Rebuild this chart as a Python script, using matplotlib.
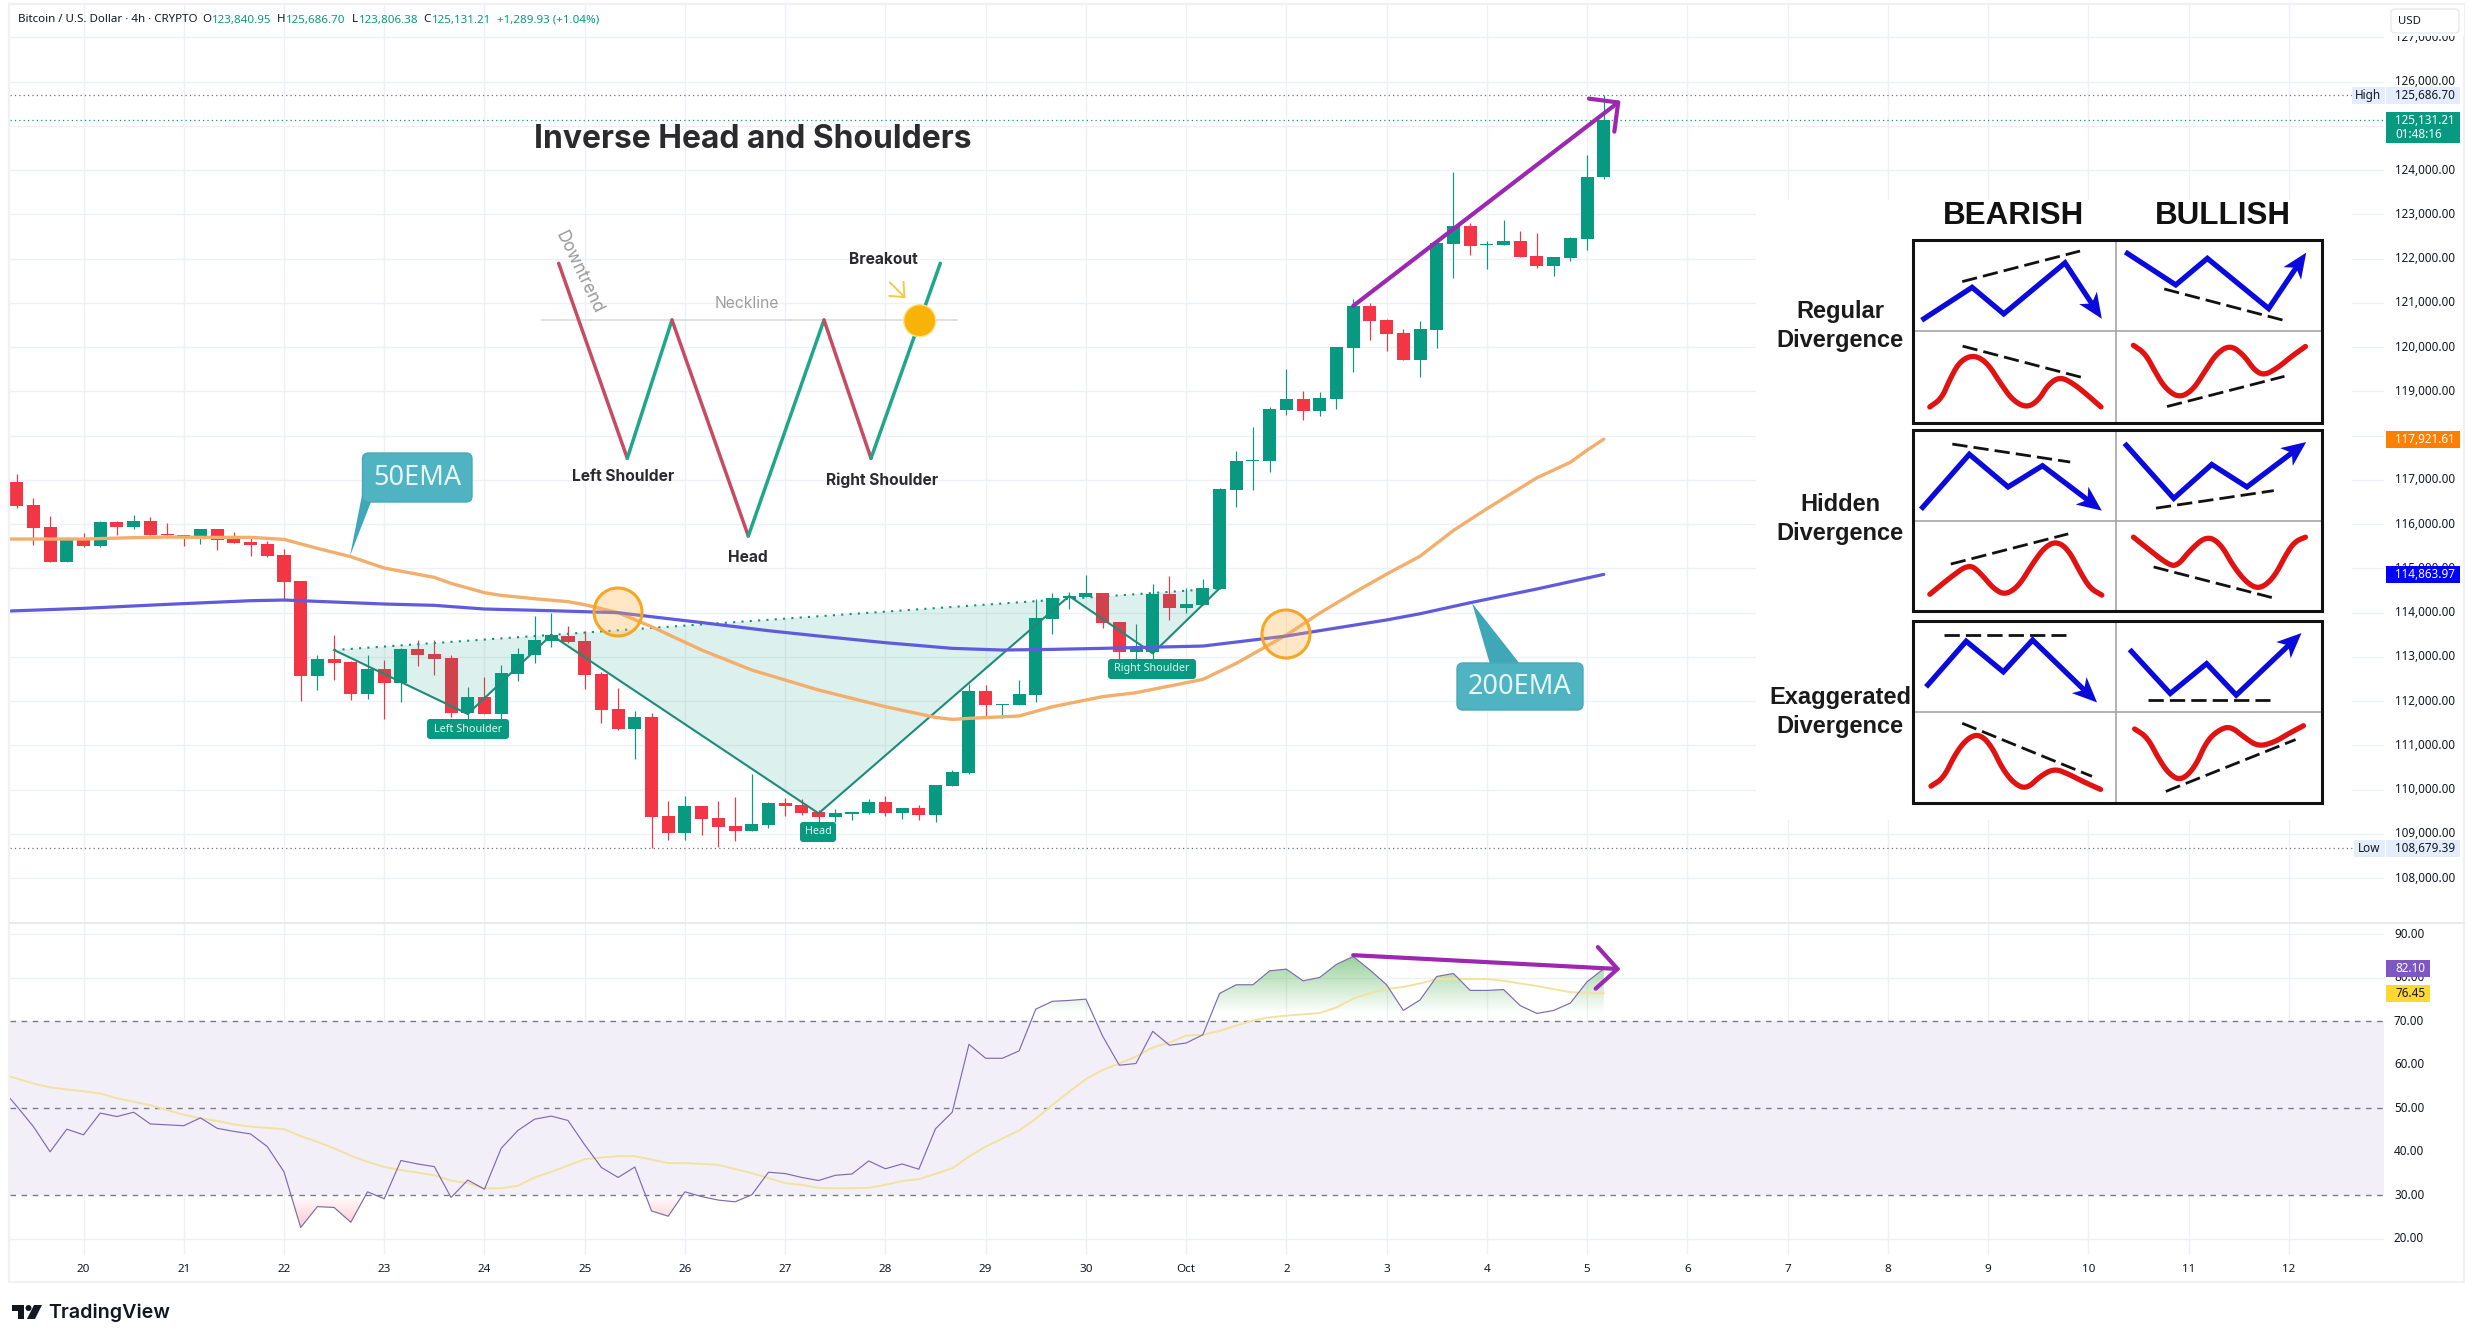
import numpy as np
import matplotlib
matplotlib.use('Agg')
import matplotlib.pyplot as plt
from matplotlib.patches import Circle, FancyBboxPatch, PathPatch, Polygon, Rectangle
from matplotlib.path import Path

# ==============================================================================
# DATA
# ==============================================================================

# BTC/USD 4h candles, index 4 is Sep 20 00:00
opens = [116951, 116431, 115934, 115150, 115685, 115505, 116047, 115934, 116069, 115776, 115753, 115708,
         115889, 115663, 115595, 115550, 115301, 114706, 112574, 112951, 112883, 112160, 112725, 112408,
         113177, 113064, 112973, 111730, 112092, 111708, 112612, 113041, 113358, 113471, 113358, 112612,
         111821, 111369, 111640, 109403, 109019, 109629, 109358, 109177, 109064, 109199, 109696, 109651,
         109493, 109380, 109448, 109471, 109719, 109471, 109583, 109425, 110081, 110375, 112228, 111911,
         111911, 112137, 113855, 114329, 114352, 114442, 113787, 113109, 113109, 114420, 114103, 114171,
         114534, 116775, 117437, 117429, 118581, 118830, 118565, 118830, 119989, 120931, 120604, 120316,
         119717, 120394, 122340, 122736, 122316, 122308, 122402, 122059, 121834, 122013, 122441, 123840.95]
highs = [117132, 116597, 116182, 115708, 115791, 116060, 116060, 116205, 116152, 116017, 115760, 115900,
         115900, 115821, 115730, 115617, 115437, 114720, 113041, 113493, 112895, 113041, 112928, 113190,
         113380, 113380, 113041, 112318, 112544, 112815, 113199, 113923, 113990, 113697, 113584, 112657,
         112295, 111776, 111730, 109742, 109855, 109640, 109742, 109832, 110352, 109719, 109809, 109787,
         109538, 109561, 109500, 109787, 109855, 109590, 109651, 110110, 110442, 112386, 112363, 111940,
         112476, 114307, 114442, 114465, 114849, 114450, 113795, 113742, 114646, 114826, 114555, 114759,
         116814, 117655, 118192, 118643, 119499, 119001, 118986, 120010, 121087, 120993, 120635, 120410,
         120589, 122410, 123958, 122806, 122402, 122869, 122628, 122573, 122040, 122480, 124340, 125686.70]
lows = [116371, 115535, 115140, 115140, 115490, 115489, 115753, 115896, 115745, 115693, 115505, 115557,
        115414, 115565, 115278, 115263, 114284, 112002, 112250, 112476, 112024, 112047, 111595, 111979,
        112793, 112589, 111640, 111595, 111700, 111595, 112454, 112860, 113222, 113312, 112273, 111504,
        111346, 110691, 108679.39, 108860, 108860, 108973, 108700, 108838, 109055, 109131, 109403, 109425,
        109177, 109267, 109312, 109448, 109403, 109335, 109312, 109267, 110075, 110352, 111663, 111617,
        111905, 111979, 113516, 114081, 114345, 113651, 112883, 112928, 112951, 113832, 113990, 114165,
        114530, 116386, 116760, 117188, 118472, 118355, 118449, 118604, 119445, 120161, 119912, 119710,
        119328, 119989, 121561, 122090, 121764, 122300, 122030, 121795, 121608, 121950, 122200, 123806.38]
closes = [116416, 115919, 115150, 115685, 115505, 116047, 115941, 116069, 115753, 115746, 115738, 115889,
          115648, 115572, 115527, 115278, 114698, 112574, 112951, 112860, 112160, 112725, 112408, 113177,
          113041, 112951, 111730, 112092, 111708, 112634, 113064, 113380, 113493, 113335, 112589, 111798,
          111369, 111640, 109380, 109019, 109629, 109335, 109154, 109064, 109222, 109696, 109629, 109471,
          109380, 109471, 109493, 109719, 109471, 109583, 109425, 110103, 110397, 112228, 111911, 111934,
          112160, 113877, 114329, 114374, 114442, 113764, 113109, 113199, 114420, 114103, 114194, 114555,
          116791, 117429, 117452, 118604, 118830, 118565, 118853, 120005, 120931, 120596, 120293, 119717,
          120410, 122355, 122736, 122293, 122332, 122402, 122036, 121834, 122036, 122464, 123841, 125131.21]

# moving averages
ema50_idx = [-1, 4, 7, 9, 11, 14, 16, 18, 20, 22, 25, 26, 28, 29, 31, 33, 34, 36, 38, 41, 44, 48, 52, 55, 56,
             57, 60, 62, 65, 67, 71, 73, 76, 78, 80, 82, 84, 86, 88, 89, 91, 93, 94, 95]
ema50 = [115663, 115663, 115693, 115708, 115700, 115700, 115655, 115452, 115263, 115007, 114796, 114661,
         114450, 114390, 114314, 114247, 114179, 113998, 113682, 113154, 112702, 112250, 111873, 111632,
         111587, 111610, 111663, 111873, 112100, 112190, 112491, 112853, 113493, 113990, 114441, 114869,
         115274, 115857, 116347, 116581, 117048, 117398, 117670, 117921.61]
ema200_idx = [-1, 4, 9, 14, 16, 18, 22, 25, 28, 32, 36, 38, 41, 45, 48, 52, 56, 59, 62, 65, 71, 74, 76, 82,
              84, 87, 91, 95]
ema200 = [114028, 114096, 114186, 114269, 114284, 114254, 114194, 114164, 114081, 114043, 113998, 113907,
          113775, 113591, 113471, 113320, 113192, 113154, 113169, 113192, 113244, 113380, 113471, 113834,
          113974, 114223, 114534, 114863.97]

# RSI, starting one bar before the first candle
rsi_idx = list(range(-1, 96))
rsi = [55.0, 50.5, 45.8, 40.0, 45.2, 43.9, 48.9, 48.1, 49.1, 46.4, 46.2, 46.0, 47.8, 45.4, 44.7, 44.1, 41.2,
       35.4, 22.6, 27.4, 27.2, 23.8, 30.8, 29.2, 38.0, 37.2, 36.6, 29.5, 33.5, 31.4, 40.8, 44.9, 47.5, 48.2,
       47.2, 41.6, 36.4, 34.1, 36.5, 26.4, 25.2, 30.8, 29.7, 28.9, 28.5, 30.1, 35.3, 35.0, 34.1, 33.4, 34.6,
       34.9, 37.9, 36.1, 37.2, 36.0, 45.3, 49.1, 64.7, 61.5, 61.5, 63.2, 72.8, 74.6, 74.8, 75.1, 66.6, 59.9,
       60.3, 67.7, 64.5, 65.0, 66.9, 76.4, 78.4, 78.4, 81.6, 82.0, 79.3, 80.1, 83.1, 84.9, 81.8, 78.4, 72.5,
       74.9, 80.3, 81.0, 77.1, 77.1, 77.3, 73.6, 71.8, 72.5, 74.2, 79.1, 82.10]
rsi_ma_idx = [-1, 1, 2, 4, 5, 6, 7, 8, 10, 11, 12, 13, 14, 16, 17, 18, 19, 20, 21, 22, 23, 25, 26, 27, 28, 29,
              30, 31, 32, 34, 35, 36, 37, 39, 40, 42, 44, 46, 47, 48, 49, 51, 52, 53, 54, 56, 57, 58, 60, 61,
              62, 63, 64, 65, 66, 67, 68, 69, 70, 71, 72, 73, 74, 75, 76, 77, 78, 79, 80, 81, 82, 83, 84, 85,
              86, 87, 88, 89, 90, 91, 92, 93, 94, 95]
rsi_ma = [58.0, 55.7, 54.8, 53.9, 53.4, 52.3, 51.5, 50.7, 48.5, 47.7, 47.1, 46.3, 45.8, 45.2, 43.6, 42.3, 40.8,
          39.1, 37.7, 36.5, 35.8, 34.6, 33.4, 32.8, 31.6, 31.6, 32.2, 34.1, 35.4, 38.3, 38.7, 39.0, 39.0, 37.4,
          37.4, 37.0, 35.1, 32.8, 32.4, 31.7, 31.6, 31.7, 32.4, 33.3, 33.7, 36.2, 38.9, 41.2, 44.9, 47.6, 50.8,
          53.8, 56.7, 58.8, 60.3, 61.9, 64.0, 65.1, 66.7, 66.9, 67.8, 69.0, 70.2, 70.9, 71.3, 71.6, 71.9, 73.2,
          75.2, 76.5, 77.4, 77.9, 78.7, 79.7, 79.8, 79.7, 79.7, 79.3, 78.7, 78.1, 77.4, 76.7, 76.5, 76.45]

# inverse head and shoulders drawn on the candles
pattern_idx = [19, 27, 32, 48, 63, 68, 72]
pattern_price = [113154, 111708, 113493, 109463, 114374, 113079, 114548]

# divergence arrows: (bar, value) start and end
price_arrow_idx = [80, 96.0]
price_arrow_val = [120931, 125569]
rsi_arrow_idx = [80, 96.0]
rsi_arrow_val = [85.2, 82.0]

# time axis
day_labels = ['20', '21', '22', '23', '24', '25', '26', '27', '28', '29', '30', 'Oct',
              '2', '3', '4', '5', '6', '7', '8', '9', '10', '11', '12']
day_idx = [4 + 6 * k for k in range(len(day_labels))]

price_ticks = list(range(108000, 128000, 1000))
covered_ticks = [118000, 125000]  # sit right under a value tag, no label
rsi_ticks = [20, 30, 40, 50, 60, 70, 80, 90]

high_price = 125686.70
low_price = 108679.39
last_price = 125131.21
last_ema50 = 117921.61
last_ema200 = 114863.97
last_rsi = 82.10
last_rsi_ma = 76.45

# schematic pattern, in figure pixels
sketch_x = [558.7, 627.3, 672, 748.3, 824, 871, 940.3]
sketch_y = [263.3, 458.3, 320, 536, 320, 458.3, 263.3]

# divergence cheat sheet, in diagram units
blue_paths = [
    [(465, 340), (587, 263), (667, 328), (822, 203), (915, 340)],
    [(980, 180), (1102, 257), (1182, 192), (1337, 315), (1432, 178)],
    [(462, 802), (580, 672), (678, 752), (765, 700), (915, 810)],
    [(977, 650), (1097, 780), (1193, 697), (1282, 752), (1432, 642)],
    [(475, 1237), (572, 1130), (666, 1205), (740, 1127), (903, 1280)],
    [(990, 1155), (1088, 1258), (1180, 1185), (1255, 1262), (1420, 1110)],
]
red_paths = [
    [(480, 556), (510, 535), (530, 490), (555, 445), (590, 428), (625, 447), (660, 500), (690, 540), (725, 558),
     (755, 540), (780, 500), (810, 482), (845, 500), (880, 528), (913, 556)],
    [(995, 405), (1025, 425), (1050, 470), (1075, 510), (1110, 534), (1145, 515), (1175, 470), (1205, 425),
     (1240, 404), (1275, 430), (1300, 465), (1325, 479), (1360, 460), (1395, 432), (1430, 408)],
    [(480, 1015), (530, 975), (580, 940), (610, 965), (640, 1000), (670, 1017), (705, 995), (740, 940), (770, 900),
     (800, 885), (830, 905), (860, 960), (885, 1000), (915, 1017)],
    [(995, 875), (1040, 910), (1080, 940), (1105, 947), (1140, 905), (1180, 872), (1215, 890), (1250, 950),
     (1285, 990), (1315, 1002), (1350, 975), (1385, 910), (1405, 885), (1430, 875)],
    [(483, 1485), (515, 1465), (545, 1405), (575, 1368), (605, 1357), (635, 1385), (665, 1445), (695, 1480),
     (725, 1492), (760, 1460), (795, 1442), (830, 1455), (870, 1475), (912, 1493)],
    [(998, 1345), (1030, 1365), (1060, 1420), (1085, 1455), (1115, 1472), (1150, 1440), (1180, 1375), (1210, 1348),
     (1240, 1338), (1275, 1365), (1310, 1388), (1350, 1378), (1390, 1355), (1425, 1337)],
]
dash_lines = [
    [(562, 249), (860, 174)], [(1073, 267), (1372, 343)], [(563, 407), (862, 483)], [(1080, 555), (1377, 481)],
    [(537, 647), (835, 691)], [(1052, 804), (1350, 761)], [(533, 941), (830, 867)], [(1046, 948), (1345, 1023)],
    [(516, 1115), (825, 1115)], [(1032, 1273), (1340, 1273)], [(562, 1331), (890, 1461)], [(1077, 1498), (1405, 1371)],
]

# ==============================================================================
# STYLE
# ==============================================================================

GREEN = '#089981'
RED = '#F23645'
GRID = '#EEF0F5'
TEXT = '#131722'
TV_FONT = 'Noto Sans'
W, H = 2475, 1343

plt.rcParams['font.family'] = [TV_FONT, 'DejaVu Sans']


def pane(left, top, right, bottom):
    # axes placed by its pixel box
    return fig.add_axes([left / W, 1 - bottom / H, (right - left) / W, (bottom - top) / H])


def y_px(ax, value):
    # pixel row of a value on a pane
    return H - ax.transData.transform((0, value))[1]


def chaikin(points, rounds=3):
    # corner cutting to round off a hand drawn curve
    pts = np.array(points, dtype=float)
    for _ in range(rounds):
        a = pts[:-1] * 0.75 + pts[1:] * 0.25
        b = pts[:-1] * 0.25 + pts[1:] * 0.75
        mid = np.empty((a.shape[0] * 2, 2))
        mid[0::2] = a
        mid[1::2] = b
        pts = np.vstack([pts[0], mid, pts[-1]])
    return pts


fig = plt.figure(figsize=(W / 100, H / 100), dpi=100, facecolor='white')

# ==============================================================================
# PRICE PANE
# ==============================================================================

ax_price = pane(10, 5, 2384, 923)
ax_price.set_xlim(-0.40, 141.70)
ax_price.set_ylim(126000 - (923 - 81.6) / 0.04425, 126000 + (81.6 - 5) / 0.04425)
ax_price.set_xticks([])
ax_price.set_yticks([])
for s in ax_price.spines.values():
    s.set_visible(False)

for p in price_ticks:
    ax_price.axhline(p, color=GRID, lw=1, zorder=0)
for d in day_idx:
    ax_price.axvline(d, color=GRID, lw=1, zorder=0)

idx = np.arange(len(opens))
opens_a, closes_a = np.array(opens), np.array(closes)
colors = [GREEN if c >= o else RED for o, c in zip(opens, closes)]
ax_price.vlines(idx, lows, highs, colors=colors, lw=0.85, zorder=2)
ax_price.bar(idx, np.abs(closes_a - opens_a), bottom=np.minimum(opens_a, closes_a), width=0.78,
             color=colors, linewidth=0, zorder=3)

# pattern polygon with its neckline
ax_price.fill(pattern_idx, pattern_price, color=GREEN, alpha=0.14, lw=0, zorder=4)
ax_price.plot(pattern_idx, pattern_price, color='#1C8C78', lw=1.5, zorder=5)
ax_price.plot([pattern_idx[0], pattern_idx[-1]], [pattern_price[0], pattern_price[-1]], color='#1C8C78',
              lw=1.5, ls=(0, (1, 3)), zorder=5)

ax_price.plot(ema50_idx, ema50, color='#F3AE6B', lw=2.4, zorder=6, solid_capstyle='round')
ax_price.plot(ema200_idx, ema200, color='#5F5BDC', lw=2.3, zorder=6, solid_capstyle='round')

# high, low and last price lines
ax_price.hlines(high_price, -0.40, 139.8, color='#6B7280', lw=0.9, ls=(0, (1, 2.5)), zorder=1)
ax_price.hlines(low_price, -0.40, 139.8, color='#6B7280', lw=0.9, ls=(0, (1, 2.5)), zorder=1)
ax_price.axhline(last_price, color=GREEN, lw=0.9, ls=(0, (1, 2.5)), zorder=1)

ax_price.annotate('', xy=(price_arrow_idx[1], price_arrow_val[1]), xytext=(price_arrow_idx[0], price_arrow_val[0]),
                  arrowprops=dict(arrowstyle='->,head_length=1.5,head_width=1.5', color='#9C27B0', lw=3,
                                  shrinkA=0, shrinkB=0), zorder=8)

# ==============================================================================
# RSI PANE
# ==============================================================================

ax_rsi = pane(10, 923, 2384, 1255)
ax_rsi.set_xlim(-0.40, 141.70)
ax_rsi.set_ylim(30 - (1255 - 1195.3) / 4.35, 70 + (1021.3 - 923) / 4.35)
ax_rsi.set_xticks([])
ax_rsi.set_yticks([])
for s in ax_rsi.spines.values():
    s.set_visible(False)

for v in [20, 40, 60, 80, 90]:
    ax_rsi.axhline(v, color=GRID, lw=1, zorder=1)
for d in day_idx:
    ax_rsi.axvline(d, color=GRID, lw=1, zorder=1)

ax_rsi.axhspan(30, 70, color='#7E57C2', alpha=0.09, lw=0, zorder=0)
for v in [30, 50, 70]:
    ax_rsi.axhline(v, color='#787B86', lw=1, ls=(0, (4, 4)), zorder=2)

rsi_a = np.array(rsi)
x_rsi = np.array(rsi_idx)
xlim_rsi, ylim_rsi = ax_rsi.get_xlim(), ax_rsi.get_ylim()

# overbought and oversold zones fade towards the 70 and 30 levels
over = ax_rsi.fill_between(x_rsi, 70, rsi_a, where=rsi_a > 70, interpolate=True, alpha=0)
over_path = Path.make_compound_path(*over.get_paths())
grad = np.zeros((256, 1, 4))
grad[:, 0, :3] = matplotlib.colors.to_rgb('#4CAF50')
grad[:, 0, 3] = np.clip(np.linspace(0.62, -0.04, 256), 0, 1)
img = ax_rsi.imshow(grad, extent=[xlim_rsi[0], xlim_rsi[1], 71, 86], origin='upper', aspect='auto', zorder=3)
img.set_clip_path(PathPatch(over_path, transform=ax_rsi.transData))

under = ax_rsi.fill_between(x_rsi, 30, rsi_a, where=rsi_a < 30, interpolate=True, alpha=0)
under_path = Path.make_compound_path(*under.get_paths())
grad = np.zeros((256, 1, 4))
grad[:, 0, :3] = matplotlib.colors.to_rgb('#F23645')
grad[:, 0, 3] = np.linspace(0, 0.32, 256)
img = ax_rsi.imshow(grad, extent=[xlim_rsi[0], xlim_rsi[1], 21, 30], origin='upper', aspect='auto', zorder=3)
img.set_clip_path(PathPatch(under_path, transform=ax_rsi.transData))
ax_rsi.set_xlim(xlim_rsi)
ax_rsi.set_ylim(ylim_rsi)

ax_rsi.plot(rsi_ma_idx, rsi_ma, color='#F1E2A0', lw=1.4, zorder=4)
ax_rsi.plot(rsi_idx, rsi, color='#7E6BAE', lw=0.85, zorder=5)

ax_rsi.annotate('', xy=(rsi_arrow_idx[1], rsi_arrow_val[1]), xytext=(rsi_arrow_idx[0], rsi_arrow_val[0]),
                arrowprops=dict(arrowstyle='->,head_length=1.5,head_width=1.5', color='#9C27B0', lw=3,
                                shrinkA=0, shrinkB=0), zorder=8)

# ==============================================================================
# OVERLAY: FRAME, AXIS LABELS, TAGS, CALLOUTS, SCHEMATIC
# ==============================================================================

ov = fig.add_axes([0, 0, 1, 1], zorder=5)
ov.set_xlim(0, W)
ov.set_ylim(H, 0)
ov.axis('off')
ov.patch.set_alpha(0)

# chart frame and pane separator
ov.add_patch(Rectangle((9, 4), 2455, 1278, fill=False, ec='#F0F1F4', lw=1.6))
ov.plot([10, 2464], [923, 923], color='#E4E6EC', lw=1.2)

# price and RSI tick labels
for p in price_ticks:
    if p not in covered_ticks:
        ov.text(2395, y_px(ax_price, p), f'{p:,.2f}', fontsize=8.45, color=TEXT, va='center', ha='left', zorder=2)
for v in rsi_ticks:
    ov.text(2394, y_px(ax_rsi, v), f'{v:.2f}', fontsize=8.45, color=TEXT, va='center', ha='left', zorder=2)

# time axis
for d, lab in zip(day_idx, day_labels):
    x = ax_price.transData.transform((d, 0))[0]
    ov.text(x, 1270, lab, fontsize=8.4, color=TEXT, ha='center', va='center',
            fontweight='bold' if lab == 'Oct' else 'normal')

# USD button masks the top of the scale
ov.add_patch(Rectangle((2386, 5), 78, 31, fc='white', ec='none', zorder=3))
ov.add_patch(FancyBboxPatch((2391, 9), 68, 24, boxstyle='round,pad=0,rounding_size=4', fc='white',
                            ec='#E8EAEE', lw=1, zorder=3))
ov.text(2398, 21, 'USD', fontsize=8.2, color=TEXT, va='center', zorder=4)


def tag(ax, value, text, fc, tc, x0=2386, x1=2460, h=17):
    y = y_px(ax, value)
    ov.add_patch(Rectangle((x0, y - h / 2), x1 - x0, h, fc=fc, ec='none', zorder=5))
    ov.text(x0 + 9, y, text, fontsize=8.45, color=tc, va='center', zorder=6)


tag(ax_price, high_price, f'{high_price:,.2f}', '#E3EEFA', TEXT)
ov.add_patch(Rectangle((2352, y_px(ax_price, high_price) - 8.5), 33, 17, fc='#E3EEFA', ec='none', zorder=5))
ov.text(2368, y_px(ax_price, high_price), 'High', fontsize=8.45, color=TEXT, va='center', ha='center', zorder=6)
tag(ax_price, low_price, f'{low_price:,.2f}', '#E3EEFA', TEXT)
ov.add_patch(Rectangle((2354, y_px(ax_price, low_price) - 8.5), 31, 17, fc='#E3EEFA', ec='none', zorder=5))
ov.text(2369, y_px(ax_price, low_price), 'Low', fontsize=8.45, color=TEXT, va='center', ha='center', zorder=6)
tag(ax_price, last_ema50, f'{last_ema50:,.2f}', '#FF8000', 'white')
tag(ax_price, last_ema200, f'{last_ema200:,.2f}', '#0000FF', 'white')
ov.add_patch(Rectangle((2386, 112), 74, 31, fc=GREEN, ec='none', zorder=5))
ov.text(2395, 120.5, f'{last_price:,.2f}', fontsize=8.45, color='white', va='center', zorder=6)
ov.text(2395, 134, '01:48:16', fontsize=8.45, color='white', va='center', zorder=6)
tag(ax_rsi, last_rsi, f'{last_rsi:.2f}', '#7E57C2', 'white', x1=2430)
tag(ax_rsi, last_rsi_ma, f'{last_rsi_ma:.2f}', '#FDD835', TEXT, x1=2430)

# legend line at the top
header_parts = [(18, 'Bitcoin / U.S. Dollar · 4h · CRYPTO', TEXT), (202.5, 'O', TEXT), (212, '123,840.95', GREEN),
                (277, 'H', TEXT), (286, '125,686.70', GREEN), (352, 'L', TEXT), (358.5, '123,806.38', GREEN),
                (423, 'C', TEXT), (431.5, '125,131.21', GREEN), (496.7, '+1,289.93 (+1.04%)', GREEN)]
for x, s, c in header_parts:
    ov.text(x, 20, s, fontsize=8.3, color=c, va='center')

# pattern tags under the swings
for x0, x1, y0, y1, s in [(427, 509, 719, 739, 'Left Shoulder'), (800, 836, 822, 842, 'Head'),
                          (1108, 1196, 659, 679, 'Right Shoulder')]:
    ov.add_patch(FancyBboxPatch((x0, y0), x1 - x0, y1 - y0, boxstyle='round,pad=0,rounding_size=3', fc=GREEN,
                                ec='none', zorder=6))
    ov.text((x0 + x1) / 2, (y0 + y1) / 2, s, fontsize=7.8, color='#DDF5EF', ha='center', va='center', zorder=7)

# crossover circles
for cx, cy in [(618, 612), (1286, 634)]:
    ov.add_patch(Circle((cx, cy), 24, fc='#FFB74D', alpha=0.32, ec='none', zorder=7))
    ov.add_patch(Circle((cx, cy), 24, fc='none', ec='#F5A623', lw=2.2, zorder=7))

# EMA callouts
CALL = '#4FB3C2'
ov.add_patch(Polygon([(363, 490), (371, 502), (350, 556)], fc='#3FA7B8', ec='none', zorder=6))
ov.add_patch(FancyBboxPatch((362.5, 453), 109.5, 49, boxstyle='round,pad=0,rounding_size=6', fc=CALL,
                            ec='#46A9B9', lw=1, zorder=7))
ov.text(417, 478, '50EMA', fontsize=19.5, color='#E6F7FA', ha='center', va='center', zorder=8)
ov.add_patch(Polygon([(1490, 664), (1520, 664), (1472, 603)], fc='#3FA7B8', ec='none', zorder=6))
ov.add_patch(FancyBboxPatch((1457, 663), 126, 47, boxstyle='round,pad=0,rounding_size=6', fc=CALL,
                            ec='#46A9B9', lw=1, zorder=7))
ov.text(1520, 687, '200EMA', fontsize=19.5, color='#E6F7FA', ha='center', va='center', zorder=8)

# schematic of the pattern
SKETCH_FONT = ['Inter', 'DejaVu Sans']
sketch_colors = ['#C64B63', '#1FA68B', '#C64B63', '#1FA68B', '#C64B63', '#1FA68B']
ov.plot([542.3, 956.7], [320.3, 320.3], color='#DCDCDC', lw=1.2, zorder=3)
for k, c in enumerate(sketch_colors):
    ov.plot(sketch_x[k:k + 2], sketch_y[k:k + 2], color=c, lw=2.5, solid_capstyle='round', zorder=4)
ov.add_patch(Circle((919.7, 320.7), 16, fc='#F9B208', ec='#FCE38A', lw=1, zorder=5))
ov.plot([890, 904.5], [282.5, 297], color='#F2C94C', lw=1.4, zorder=4)
ov.plot([903.5, 904.5, 889.5], [282, 297, 296], color='#F2C94C', lw=1.4, zorder=4)

ov.text(752.5, 139, 'Inverse Head and Shoulders', fontsize=22.9, fontweight='bold', color='#2B2B2E', ha='center',
        va='center', family=SKETCH_FONT, zorder=5)
ov.text(578.5, 272, 'Downtrend', fontsize=12.3, color='#9A9A9A', rotation=-64.4, ha='center', va='center',
        rotation_mode='anchor', family=SKETCH_FONT, zorder=5)
ov.text(747, 304, 'Neckline', fontsize=11.3, color='#9E9E9E', ha='center', va='center', family=SKETCH_FONT, zorder=5)
for x, y, s in [(883, 259, 'Breakout'), (623, 476.7, 'Left Shoulder'), (881.7, 480, 'Right Shoulder'),
                (748.3, 557.7, 'Head')]:
    ov.text(x, y, s, fontsize=11.2, fontweight='bold', color='#2B2B2E', ha='center', va='center',
            family=SKETCH_FONT, zorder=5)

# TradingView mark
LOGO = '#131722'
ov.add_patch(Polygon([(12, 1305), (24, 1305), (24, 1319), (18, 1319), (18, 1311), (12, 1311)], fc=LOGO, ec='none'))
ov.add_patch(Circle((28.5, 1308), 3, fc=LOGO, ec='none'))
ov.add_patch(Polygon([(34, 1305), (42, 1305), (35, 1319), (27, 1319)], fc=LOGO, ec='none'))
ov.text(48, 1313, 'TradingView', fontsize=14.2, fontweight='semibold', color=LOGO, va='center',
        family=['Inter', 'DejaVu Sans'])

# ==============================================================================
# DIVERGENCE CHEAT SHEET
# ==============================================================================

ax_div = pane(1740, 180, 2360, 820)
ax_div.set_zorder(6)
ax_div.set_xlim(0, 1568)
ax_div.set_ylim(1568, 0)
ax_div.axis('off')
ax_div.patch.set_alpha(0)
ax_div.add_patch(Rectangle((40, 49), 1508, 1519, fc='white', ec='none', zorder=0))

DIV_FONT = ['Liberation Sans', 'DejaVu Sans']
ax_div.text(692, 87, 'BEARISH', fontsize=22.6, fontweight='bold', ha='center', va='center', family=DIV_FONT, color='#111111')
ax_div.text(1222, 87, 'BULLISH', fontsize=22.6, fontweight='bold', ha='center', va='center', family=DIV_FONT, color='#111111')
for y, s in [(322, 'Regular'), (392, 'Divergence'), (795, 'Hidden'), (865, 'Divergence'), (1269, 'Exaggerated'),
             (1339, 'Divergence')]:
    ax_div.text(254, y, s, fontsize=17, fontweight='bold', ha='center', va='center', family=DIV_FONT, color='#1A1A1A')

for y0, y1, ym in [(148, 595, 371), (613, 1056, 835), (1080, 1527, 1304)]:
    ax_div.plot([952, 952], [y0, y1], color='#A5A5A5', lw=1.2, zorder=1)
    ax_div.plot([438, 1471], [ym, ym], color='#A5A5A5', lw=1.2, zorder=1)
    ax_div.add_patch(Rectangle((438, y0), 1033, y1 - y0, fill=False, ec='#111111', lw=2.2, zorder=4))

for line in dash_lines:
    xs, ys = zip(*line)
    ax_div.plot(xs, ys, color='#111111', lw=2, ls=(0, (5.5, 2.2)), zorder=2)

for path in red_paths:
    pts = chaikin(path)
    ax_div.plot(pts[:, 0], pts[:, 1], color='#E01212', lw=3.8, solid_capstyle='round', solid_joinstyle='round', zorder=3)

for path in blue_paths:
    pts = np.array(path, dtype=float)
    tip = pts[-1]
    u = (tip - pts[-2]) / np.linalg.norm(tip - pts[-2])
    n = np.array([-u[1], u[0]])
    neck = tip - 45 * u
    ax_div.plot(list(pts[:-1, 0]) + [neck[0]], list(pts[:-1, 1]) + [neck[1]], color='#0A0ADC', lw=3.8,
                solid_joinstyle='miter', zorder=3)
    head = [tip, tip - 62 * u + 27 * n, neck, tip - 62 * u - 27 * n]
    ax_div.add_patch(Polygon(head, fc='#0A0ADC', ec='none', zorder=3))

fig.savefig('out.png', dpi=100, facecolor='white')
